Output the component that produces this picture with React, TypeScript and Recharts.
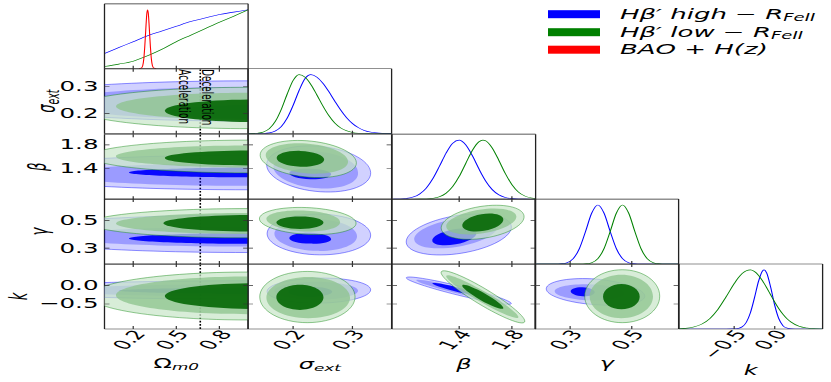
import React from "react";
import { ComposedChart, XAxis, YAxis, Line, Scatter, ReferenceLine } from "recharts";

// The reference figure is squeezed vertically, so everything is drawn
// at full height and the whole figure is squashed with one transform.
const SQUASH = 0.55;
const FIG_W = 831;
const FIG_H = 382 / SQUASH;
const GRID_LEFT = 104.5;
const GRID_TOP = 4 / SQUASH;
const CELL_W = 143.62;
const CELL_H = 65 / SQUASH;
const FONT = "DejaVu Sans, sans-serif";
const TICK_V = 5.5;
const TICK_H = 5;
const AXIS_THIN = 0.001; // axes take (almost) no room, the margins hold the labels
const FRAME = { stroke: "#222", strokeWidth: 1.3 };

const HIGH = "#0000ff";
const LOW = "#008000";
const BAO = "#ff0000";

// ---- parameter axes
const omegaDomain = [0, 1];
const omegaTicks = [0.2, 0.5, 0.8];
const omegaTickText = ["0.2", "0.5", "0.8"];
const sigmaDomain = [0.124, 0.366];
const sigmaTicks = [0.2, 0.3];
const sigmaTickText = ["0.2", "0.3"];
const betaDomain = [0.89, 1.98];
const betaTicks = [1.4, 1.8];
const betaTickText = ["1.4", "1.8"];
const gammaDomain = [0.186, 0.652];
const gammaTicks = [0.3, 0.5];
const gammaTickText = ["0.3", "0.5"];
const kDomain = [-1.18, 0.59];
const kTicks = [-0.5, 0.0];
const kTickText = ["\u22120.5", "0.0"];

const paramSymbols = ["\u03a9", "\u03c3", "\u03b2", "\u03b3", "k"];
const paramSubs = ["m0", "ext", "", "", ""];

// ---- 1D marginals
const omegaGrid = [0, 0.1, 0.2, 0.3, 0.4, 0.5, 0.6, 0.7, 0.8, 0.9, 1.0];
const omegaHigh = [0.26, 0.36, 0.46, 0.56, 0.64, 0.72, 0.8, 0.86, 0.92, 0.96, 1.0];
const omegaLow = [0.04, 0.08, 0.13, 0.22, 0.33, 0.46, 0.57, 0.68, 0.79, 0.89, 1.0];
const baoGrid = [0.24, 0.26, 0.27, 0.275, 0.28, 0.285, 0.29, 0.295, 0.3, 0.305, 0.31, 0.315, 0.32, 0.325, 0.33, 0.34, 0.36];
const baoPdf = [0, 0.02, 0.1, 0.2, 0.36, 0.56, 0.77, 0.94, 1.0, 0.94, 0.77, 0.56, 0.36, 0.2, 0.1, 0.02, 0];

const sigmaGrid = [0.12, 0.13, 0.14, 0.15, 0.16, 0.17, 0.18, 0.19, 0.2, 0.21, 0.22, 0.23, 0.24, 0.25, 0.26, 0.27, 0.28, 0.29, 0.3, 0.31, 0.32, 0.33, 0.34, 0.35, 0.36, 0.37];
const sigmaHigh = [0, 0, 0.001, 0.004, 0.015, 0.047, 0.121, 0.263, 0.479, 0.73, 0.932, 1.0, 0.958, 0.857, 0.716, 0.557, 0.405, 0.274, 0.174, 0.103, 0.057, 0.029, 0.014, 0.006, 0.002, 0.001];
const sigmaLow = [0, 0.002, 0.009, 0.03, 0.087, 0.208, 0.411, 0.67, 0.901, 1.0, 0.957, 0.833, 0.659, 0.474, 0.31, 0.184, 0.1, 0.049, 0.022, 0.009, 0.003, 0.001, 0, 0, 0, 0];

const betaGrid = [0.9, 0.95, 1.0, 1.05, 1.1, 1.15, 1.2, 1.25, 1.3, 1.35, 1.4, 1.45, 1.5, 1.55, 1.58, 1.6, 1.65, 1.7, 1.75, 1.8, 1.85, 1.9, 1.95, 2.0];
const betaHigh = [0.001, 0.004, 0.013, 0.036, 0.089, 0.188, 0.347, 0.557, 0.778, 0.945, 0.999, 0.919, 0.736, 0.512, 0.386, 0.31, 0.164, 0.075, 0.03, 0.01, 0.003, 0.001, 0, 0];
const betaLow = [0, 0, 0, 0, 0.001, 0.004, 0.015, 0.041, 0.1, 0.211, 0.385, 0.607, 0.826, 0.972, 1.0, 0.99, 0.87, 0.662, 0.435, 0.247, 0.121, 0.052, 0.019, 0.006];

const gammaGrid = [0.19, 0.21, 0.23, 0.25, 0.27, 0.29, 0.31, 0.33, 0.35, 0.37, 0.39, 0.41, 0.43, 0.45, 0.47, 0.49, 0.51, 0.53, 0.55, 0.57, 0.59, 0.61, 0.63, 0.65];
const gammaHigh = [0, 0, 0, 0.001, 0.005, 0.024, 0.093, 0.263, 0.552, 0.862, 1.0, 0.862, 0.552, 0.263, 0.093, 0.024, 0.005, 0.001, 0, 0, 0, 0, 0, 0];
const gammaLow = [0, 0, 0, 0, 0, 0, 0, 0.001, 0.005, 0.024, 0.093, 0.263, 0.552, 0.862, 1.0, 0.862, 0.552, 0.263, 0.093, 0.024, 0.005, 0.001, 0, 0];

const kGrid = [-1.2, -1.1, -1.0, -0.9, -0.8, -0.7, -0.6, -0.5, -0.45, -0.4, -0.35, -0.3, -0.25, -0.2, -0.15, -0.13, -0.1, -0.05, 0, 0.05, 0.1, 0.15, 0.2, 0.3, 0.4, 0.5, 0.6];
const kHigh = [0, 0, 0, 0, 0, 0, 0, 0.002, 0.01, 0.038, 0.114, 0.274, 0.526, 0.806, 0.984, 1.0, 0.95, 0.706, 0.4, 0.175, 0.059, 0.015, 0.003, 0, 0, 0, 0];
const kLow = [0.003, 0.011, 0.033, 0.082, 0.177, 0.333, 0.543, 0.767, 0.865, 0.94, 0.987, 1.0, 0.973, 0.909, 0.814, 0.77, 0.7, 0.577, 0.456, 0.346, 0.252, 0.176, 0.118, 0.046, 0.016, 0.004, 0.001];

// ---- 2D contours: [outer, middle, inner], each as right, top, left, bottom points
const omegaSigmaHigh = [
  [[2.7, 0.246], [1.0, 0.321], [-0.7, 0.246], [1.0, 0.171]],
  [[2.35, 0.238], [1.0, 0.298], [-0.35, 0.238], [1.0, 0.178]],
  [[1.75, 0.205], [1.1, 0.231], [0.45, 0.205], [1.1, 0.179]],
];
const omegaSigmaLow = [
  [[2.2, 0.22], [1.0, 0.297], [-0.2, 0.22], [1.0, 0.143]],
  [[1.92, 0.226], [1.0, 0.277], [0.08, 0.226], [1.0, 0.175]],
  [[1.68, 0.21], [1.05, 0.252], [0.42, 0.21], [1.05, 0.168]],
];
const omegaBetaHigh = [
  [[2.7, 1.339], [1.0, 1.63], [-0.7, 1.339], [1.0, 1.048]],
  [[2.3, 1.306], [1.0, 1.497], [-0.3, 1.306], [1.0, 1.115]],
  [[2.03, 1.339], [1.1, 1.422], [0.17, 1.339], [1.1, 1.256]],
];
const omegaBetaLow = [
  [[2.1, 1.606], [1.0, 1.88], [-0.1, 1.606], [1.0, 1.331]],
  [[1.92, 1.606], [1.0, 1.789], [0.08, 1.606], [1.0, 1.422]],
  [[1.68, 1.581], [1.05, 1.705], [0.42, 1.581], [1.05, 1.456]],
];
const sigmaBetaHigh = [
  [[0.3307, 1.339], [0.2406, 1.78], [0.1555, 1.456], [0.2457, 1.015]],
  [[0.3094, 1.339], [0.2398, 1.689], [0.1668, 1.422], [0.2432, 1.073]],
  [[0.2641, 1.31], [0.2289, 1.4], [0.1936, 1.33], [0.2289, 1.223]],
];
const sigmaBetaLow = [
  [[0.3066, 1.506], [0.2233, 1.87], [0.1445, 1.622], [0.2277, 1.258]],
  [[0.2926, 1.522], [0.2222, 1.822], [0.1539, 1.622], [0.2245, 1.323]],
  [[0.2524, 1.556], [0.2121, 1.7], [0.1723, 1.579], [0.2121, 1.434]],
];
const omegaGammaHigh = [
  [[2.7, 0.402], [1.0, 0.538], [-0.7, 0.402], [1.0, 0.269]],
  [[2.3, 0.383], [1.0, 0.454], [-0.3, 0.383], [1.0, 0.312]],
  [[2.03, 0.37], [1.1, 0.409], [0.17, 0.37], [1.1, 0.331]],
];
const omegaGammaLow = [
  [[2.1, 0.479], [1.0, 0.584], [-0.1, 0.479], [1.0, 0.374]],
  [[1.92, 0.477], [1.0, 0.552], [0.08, 0.477], [1.0, 0.402]],
  [[1.68, 0.479], [1.05, 0.538], [0.41, 0.479], [1.05, 0.419]],
];
const sigmaGammaHigh = [
  [[0.3307, 0.3951], [0.2423, 0.5449], [0.1562, 0.4022], [0.2448, 0.2524]],
  [[0.3077, 0.3879], [0.2389, 0.5093], [0.1685, 0.4022], [0.2406, 0.2809]],
  [[0.2641, 0.365], [0.2289, 0.41], [0.1936, 0.372], [0.2289, 0.333]],
];
const sigmaGammaLow = [
  [[0.3061, 0.4807], [0.223, 0.5913], [0.1433, 0.5093], [0.2264, 0.3987]],
  [[0.2792, 0.4879], [0.2171, 0.5699], [0.155, 0.5093], [0.2188, 0.4201]],
  [[0.2512, 0.4843], [0.2121, 0.5271], [0.1718, 0.4843], [0.2121, 0.4379]],
];
const betaGammaHigh = [
  [[1.7955, 0.4593], [1.3742, 0.5328], [0.9985, 0.338], [1.4198, 0.2645]],
  [[1.6892, 0.4593], [1.3575, 0.5078], [1.0593, 0.3594], [1.3909, 0.3109]],
  [[1.5298, 0.4094], [1.3522, 0.4336], [1.1959, 0.3523], [1.3735, 0.328]],
];
const betaGammaLow = [
  [[1.8919, 0.5328], [1.5579, 0.5985], [1.2642, 0.4379], [1.5974, 0.373]],
  [[1.8334, 0.5307], [1.5534, 0.5756], [1.3021, 0.4522], [1.5822, 0.4072]],
  [[1.7348, 0.5092], [1.5685, 0.5442], [1.4236, 0.4593], [1.5898, 0.4243]],
];
const omegaKHigh = [
  [[2.7, -0.119], [1.0, 0.133], [-0.7, -0.119], [1.0, -0.368]],
  [[2.3, -0.127], [1.0, 0.037], [-0.3, -0.127], [1.0, -0.291]],
  [[2.03, -0.14], [1.1, -0.058], [0.1, -0.14], [1.1, -0.223]],
];
const omegaKLow = [
  [[2.1, -0.283], [1.0, 0.371], [-0.1, -0.283], [1.0, -0.934]],
  [[1.92, -0.264], [1.0, 0.251], [0.08, -0.264], [1.0, -0.778]],
  [[1.68, -0.283], [1.05, 0.07], [0.42, -0.283], [1.05, -0.633]],
];
const sigmaKHigh = [
  [[0.3307, -0.1131], [0.2435, 0.207], [0.1562, -0.1569], [0.2435, -0.4769]],
  [[0.3094, -0.1404], [0.2389, 0.1058], [0.1685, -0.1404], [0.2389, -0.3867]],
  [[0.2658, -0.1678], [0.2289, -0.031], [0.192, -0.1678], [0.2289, -0.3046]],
];
const sigmaKLow = [
  [[0.3044, -0.3046], [0.2238, 0.3875], [0.1438, -0.3046], [0.2238, -1.0077]],
  [[0.296, -0.3319], [0.2255, 0.2344], [0.155, -0.3319], [0.2255, -0.8873]],
  [[0.2512, -0.3183], [0.2116, 0.0237], [0.1718, -0.3183], [0.2116, -0.6602]],
];
const betaKHigh = [
  [[1.7955, -0.4879], [1.4054, -0.0146], [0.9985, 0.2152], [1.3887, -0.2553]],
  [[1.712, -0.414], [1.3985, -0.0529], [1.0744, 0.1468], [1.3879, -0.2143]],
  [[1.545, -0.2499], [1.3742, -0.0337], [1.1959, 0.0647], [1.3666, -0.1514]],
];
const betaKLow = [
  [[1.8964, -0.9885], [1.6118, -0.1158], [1.2642, 0.3793], [1.5496, -0.4934]],
  [[1.8486, -0.8654], [1.5966, -0.1678], [1.3021, 0.2699], [1.5541, -0.4277]],
  [[1.7348, -0.6192], [1.5943, -0.2143], [1.4236, 0.01], [1.564, -0.3949]],
];
const gammaKHigh = [
  [[0.542, -0.2635], [0.37, 0.1879], [0.223, -0.1131], [0.3927, -0.5234]],
  [[0.4771, -0.2088], [0.3625, 0.0374], [0.2499, -0.1541], [0.3645, -0.4003]],
  [[0.3797, -0.1815], [0.3408, -0.0447], [0.3018, -0.1541], [0.3408, -0.2909]],
];
const gammaKLow = [
  [[0.5907, -0.2854], [0.469, 0.4341], [0.3473, -0.2854], [0.469, -1.0077]],
  [[0.5689, -0.2964], [0.4664, 0.2973], [0.3635, -0.2964], [0.4664, -0.8873]],
  [[0.5258, -0.2991], [0.4664, 0.0428], [0.4067, -0.2991], [0.4664, -0.6411]],
];

const accelerationBoundary = 0.667;
const phaseNames = ["Acceleration", "Deceleration"];
const legendNames = ["H\u03b2\u2032 high \u2212 R", "H\u03b2\u2032 low \u2212 R", "BAO + H(z)"];
const legendSubs = ["FeII", "FeII", ""];
const legendColors = [HIGH, LOW, BAO];

const AXES = [
  { domain: omegaDomain, ticks: omegaTicks, text: omegaTickText },
  { domain: sigmaDomain, ticks: sigmaTicks, text: sigmaTickText },
  { domain: betaDomain, ticks: betaTicks, text: betaTickText },
  { domain: gammaDomain, ticks: gammaTicks, text: gammaTickText },
  { domain: kDomain, ticks: kTicks, text: kTickText },
];
// squashed-pixel gaps for the titles
const xTitleGap = [34, 35, 35, 34, 41];
const yTitleX = [0, 46, 37, 39, 18];

const highStyle = [
  { fill: HIGH, opacity: 0.18, outline: HIGH },
  { fill: HIGH, opacity: 0.26 },
  { fill: HIGH, opacity: 0.95 },
];
const lowStyle = [
  { fill: "#c8e6c8", opacity: 0.7, outline: LOW },
  { fill: "#8cc38c", opacity: 0.75 },
  { fill: "#006400", opacity: 0.88 },
];

const K = 0.5523;
function ellipsePath(pts: { x: number; y: number }[]) {
  const cx = (pts[0].x + pts[1].x + pts[2].x + pts[3].x) / 4;
  const cy = (pts[0].y + pts[1].y + pts[2].y + pts[3].y) / 4;
  let d = `M${pts[0].x},${pts[0].y}`;
  for (let i = 0; i < 4; i++) {
    const a = pts[i];
    const b = pts[(i + 1) % 4];
    d += `C${a.x + K * (b.x - cx)},${a.y + K * (b.y - cy)} ${b.x + K * (a.x - cx)},${b.y + K * (a.y - cy)} ${b.x},${b.y}`;
  }
  return d + "Z";
}

const noSymbol = () => <g />;

function contours(levels: number[][][], style: any[], key: string) {
  return levels.map((pts, i) => (
    <Scatter
      key={`${key}-${i}`}
      data={pts.map(([x, y]) => ({ x, y }))}
      shape={noSymbol}
      lineType="joint"
      line={(p: any) => (
        <path
          d={ellipsePath(p.points)}
          fill={style[i].fill}
          fillOpacity={style[i].opacity}
          stroke={style[i].outline ?? "none"}
          strokeOpacity={0.55}
          strokeWidth={1}
        />
      )}
      isAnimationActive={false}
    />
  ));
}

function curve(xs: number[], ys: number[], color: string, key: string) {
  return (
    <Line
      key={key}
      data={xs.map((x, i) => ({ x, y: ys[i] }))}
      dataKey="y"
      type="monotone"
      stroke={color}
      strokeWidth={1.1}
      dot={false}
      activeDot={false}
      isAnimationActive={false}
    />
  );
}

function mathText(i: number, size: number) {
  const italic = i !== 0;
  return (
    <>
      <tspan fontStyle={italic ? "italic" : "normal"}>{paramSymbols[i]}</tspan>
      {paramSubs[i] && (
        <tspan fontSize={size * 0.7} fontStyle="italic" dy={size * 0.3}>
          {paramSubs[i]}
        </tspan>
      )}
    </>
  );
}

function Panel({ col, row, children }: { col: number; row: number; children?: any }) {
  const diag = col === row;
  const xAx = AXES[col];
  const yAx = diag ? null : AXES[row];
  const left = GRID_LEFT + col * CELL_W;
  const top = GRID_TOP + row * CELL_H;
  const ml = col === 0 ? left : 4;
  const mt = 4;
  const mr = 4;
  const mb = row === 4 ? FIG_H - top - CELL_H : 4;
  const x0 = ml;
  const x1 = ml + CELL_W;
  const y0 = mt;
  const y1 = mt + CELL_H;

  const bottomTick = (p: any) => {
    const i = xAx.ticks.indexOf(p.payload.value);
    return (
      <g>
        <line x1={p.x} x2={p.x} y1={y1} y2={y1 - TICK_V} stroke="#333" strokeWidth={1.2} />
        {row === 4 && (
          <text
            transform={`translate(${p.x + 6},${y1 + 4}) rotate(-55)`}
            textAnchor="end"
            dominantBaseline="central"
            fontSize={23.5}
            fontFamily={FONT}
            fill="#000"
          >
            {xAx.text[i]}
          </text>
        )}
      </g>
    );
  };
  const topTick = (p: any) => (
    <line x1={p.x} x2={p.x} y1={y0} y2={y0 + TICK_V} stroke="#333" strokeWidth={1.2} />
  );
  const leftTick = (p: any) => {
    const i = yAx ? yAx.ticks.indexOf(p.payload.value) : -1;
    return (
      <g>
        <line x1={x0} x2={x0 + TICK_H} y1={p.y} y2={p.y} stroke="#333" strokeWidth={1.2} />
        {col === 0 && yAx && (
          <text x={x0 - 6} y={p.y} textAnchor="end" dominantBaseline="central" fontSize={24.5} fontFamily={FONT} fill="#000">
            {yAx.text[i]}
          </text>
        )}
      </g>
    );
  };
  const rightTick = (p: any) => (
    <line x1={x1} x2={x1 - TICK_H} y1={p.y} y2={p.y} stroke="#333" strokeWidth={1.2} />
  );
  const xTitle = () => (
    <text
      x={(x0 + x1) / 2}
      y={y1 + xTitleGap[col] / SQUASH}
      textAnchor="middle"
      dominantBaseline="central"
      fontSize={24}
      fontFamily={FONT}
      fill="#000"
    >
      {mathText(col, 24)}
    </text>
  );
  const yTitle = () => (
    <text
      transform={`translate(${yTitleX[row]},${(y0 + y1) / 2}) rotate(-90)`}
      textAnchor="middle"
      dominantBaseline="central"
      fontSize={24}
      fontFamily={FONT}
      fill="#000"
    >
      {mathText(row, 24)}
    </text>
  );

  return (
    <div style={{ position: "absolute", left: left - ml, top: top - mt }}>
      <ComposedChart
        width={CELL_W + ml + mr}
        height={CELL_H + mt + mb}
        margin={{ top: mt, right: mr, bottom: mb - AXIS_THIN, left: ml - AXIS_THIN }}
      >
        {children}
        <XAxis
          xAxisId={0}
          dataKey="x"
          type="number"
          domain={xAx.domain}
          ticks={xAx.ticks}
          interval={0}
          allowDataOverflow
          height={AXIS_THIN}
          tickLine={false}
          axisLine={FRAME}
          tick={bottomTick}
          label={row === 4 ? xTitle : undefined}
        />
        <XAxis
          xAxisId="t"
          orientation="top"
          dataKey="x"
          type="number"
          domain={xAx.domain}
          ticks={xAx.ticks}
          interval={0}
          allowDataOverflow
          height={AXIS_THIN}
          tickLine={false}
          axisLine={FRAME}
          tick={diag ? false : topTick}
        />
        <YAxis
          yAxisId={0}
          dataKey="y"
          type="number"
          domain={yAx ? yAx.domain : [0, 1.1]}
          ticks={yAx ? yAx.ticks : undefined}
          interval={0}
          allowDataOverflow
          width={AXIS_THIN}
          tickLine={false}
          axisLine={FRAME}
          tick={yAx ? leftTick : false}
          label={col === 0 && yAx ? yTitle : undefined}
        />
        <YAxis
          yAxisId="r"
          orientation="right"
          dataKey="y"
          type="number"
          domain={yAx ? yAx.domain : [0, 1.1]}
          ticks={yAx ? yAx.ticks : undefined}
          interval={0}
          allowDataOverflow
          width={AXIS_THIN}
          tickLine={false}
          axisLine={FRAME}
          tick={yAx ? rightTick : false}
        />
      </ComposedChart>
    </div>
  );
}

function boundary() {
  return (
    <ReferenceLine key="boundary" x={accelerationBoundary} stroke="#000" strokeWidth={1.6} strokeDasharray="3 3" />
  );
}

// the two phase names hang from the top of the boundary line, above the contours
const phaseShape = (p: any) => (
  <g fontFamily={FONT} fontSize={16} fill="#000">
    <text transform={`translate(${p.cx - 21},${p.cy + 1}) rotate(90)`}>{phaseNames[0]}</text>
    <text transform={`translate(${p.cx + 2},${p.cy + 1}) rotate(90)`}>{phaseNames[1]}</text>
  </g>
);

function phaseText() {
  return (
    <Scatter
      key="phase"
      data={[{ x: accelerationBoundary, y: sigmaDomain[1] }]}
      shape={phaseShape}
      isAnimationActive={false}
    />
  );
}

function LegendBox() {
  const rowsY = [14.2, 32.2, 49.7];
  return (
    <svg width={FIG_W} height={FIG_H} style={{ position: "absolute", left: 0, top: 0, pointerEvents: "none" }}>
      {legendNames.map((name, i) => (
        <g key={name}>
          <rect x={548} y={(rowsY[i] - 4) / SQUASH} width={52} height={8 / SQUASH} fill={legendColors[i]} />
          <text
            x={620}
            y={rowsY[i] / SQUASH}
            dominantBaseline="central"
            fontSize={26}
            fontStyle="italic"
            fontFamily={FONT}
            fill="#000"
          >
            {name}
            {legendSubs[i] && (
              <tspan fontSize={18} dy={7}>
                {legendSubs[i]}
              </tspan>
            )}
          </text>
        </g>
      ))}
    </svg>
  );
}

export default function App() {
  return (
    <div style={{ position: "absolute", left: 0, top: 0, width: FIG_W, height: 382, overflow: "hidden", background: "#fff" }}>
      <div
        style={{
          position: "relative",
          width: FIG_W,
          height: FIG_H,
          transform: `scale(1, ${SQUASH})`,
          transformOrigin: "0 0",
        }}
      >
        <Panel col={0} row={0}>
          {curve(omegaGrid, omegaHigh, HIGH, "oh")}
          {curve(omegaGrid, omegaLow, LOW, "ol")}
          {curve(baoGrid, baoPdf, BAO, "bao")}
        </Panel>

        <Panel col={0} row={1}>
          {contours(omegaSigmaHigh, highStyle, "osh")}
          {contours(omegaSigmaLow, lowStyle, "osl")}
          {boundary()}
          {phaseText()}
        </Panel>
        <Panel col={1} row={1}>
          {curve(sigmaGrid, sigmaHigh, HIGH, "sh")}
          {curve(sigmaGrid, sigmaLow, LOW, "sl")}
        </Panel>

        <Panel col={0} row={2}>
          {contours(omegaBetaHigh, highStyle, "obh")}
          {contours(omegaBetaLow, lowStyle, "obl")}
          {boundary()}
        </Panel>
        <Panel col={1} row={2}>
          {contours(sigmaBetaHigh, highStyle, "sbh")}
          {contours(sigmaBetaLow, lowStyle, "sbl")}
        </Panel>
        <Panel col={2} row={2}>
          {curve(betaGrid, betaHigh, HIGH, "bh")}
          {curve(betaGrid, betaLow, LOW, "bl")}
        </Panel>

        <Panel col={0} row={3}>
          {contours(omegaGammaHigh, highStyle, "ogh")}
          {contours(omegaGammaLow, lowStyle, "ogl")}
          {boundary()}
        </Panel>
        <Panel col={1} row={3}>
          {contours(sigmaGammaHigh, highStyle, "sgh")}
          {contours(sigmaGammaLow, lowStyle, "sgl")}
        </Panel>
        <Panel col={2} row={3}>
          {contours(betaGammaHigh, highStyle, "bgh")}
          {contours(betaGammaLow, lowStyle, "bgl")}
        </Panel>
        <Panel col={3} row={3}>
          {curve(gammaGrid, gammaHigh, HIGH, "gh")}
          {curve(gammaGrid, gammaLow, LOW, "gl")}
        </Panel>

        <Panel col={0} row={4}>
          {contours(omegaKHigh, highStyle, "okh")}
          {contours(omegaKLow, lowStyle, "okl")}
          {boundary()}
        </Panel>
        <Panel col={1} row={4}>
          {contours(sigmaKHigh, highStyle, "skh")}
          {contours(sigmaKLow, lowStyle, "skl")}
        </Panel>
        <Panel col={2} row={4}>
          {contours(betaKHigh, highStyle, "bkh")}
          {contours(betaKLow, lowStyle, "bkl")}
        </Panel>
        <Panel col={3} row={4}>
          {contours(gammaKHigh, highStyle, "gkh")}
          {contours(gammaKLow, lowStyle, "gkl")}
        </Panel>
        <Panel col={4} row={4}>
          {curve(kGrid, kHigh, HIGH, "kh")}
          {curve(kGrid, kLow, LOW, "kl")}
        </Panel>

        <LegendBox />
      </div>
    </div>
  );
}
